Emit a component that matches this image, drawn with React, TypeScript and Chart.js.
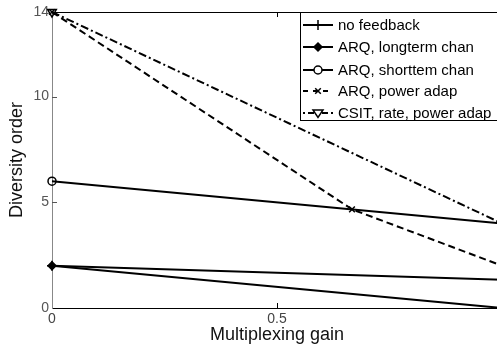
import React, { useEffect, useRef } from "react";
import { Chart, registerables } from "chart.js";

Chart.register(...registerables);

const xTicks = [0, 0.5, 1];
const yTicks = [0, 5, 10, 14];

const xTwo = [0, 1];
const xPower = [0, 2 / 3, 1];

const noFeedback = [2, 0];
const arqLongterm = [2, 4 / 3];
const arqShortterm = [6, 4];
const arqPower = [14, 14 / 3, 2];
const csitRatePower = [14, 4];

const seriesNames = [
  "no feedback",
  "ARQ, longterm chan",
  "ARQ, shortterm chan".replace("shortterm", "shorttem"),
  "ARQ, power adap",
  "CSIT, rate, power adap",
];

const FONT = "'Liberation Sans', Arial, sans-serif";

type Style = {
  dash: number[];
  point: any;
  rot: number;
  fill: boolean;
  r: number;
};

const styles: Style[] = [
  { dash: [], point: "cross", rot: 0, fill: false, r: 5 },
  { dash: [], point: "rectRot", rot: 0, fill: true, r: 4 },
  { dash: [], point: "circle", rot: 0, fill: false, r: 4 },
  { dash: [7, 4], point: "crossRot", rot: 0, fill: false, r: 4 },
  { dash: [8, 3, 2, 3], point: "triangle", rot: 180, fill: false, r: 5 },
];

function mk(xs: number[], ys: number[]) {
  return xs.map((x, i) => ({ x, y: ys[i] }));
}

const legendPlugin = {
  id: "customLegend",
  afterDatasetsDraw(chart: any) {
    const { ctx, chartArea } = chart;
    const xs = chart.scales.x;
    const ys = chart.scales.y;
    ctx.save();
    // top border
    ctx.strokeStyle = "#000";
    ctx.lineWidth = 1;
    ctx.beginPath();
    ctx.moveTo(chartArea.left, chartArea.top + 0.5);
    ctx.lineTo(chartArea.right, chartArea.top + 0.5);
    ctx.stroke();
    // inner ticks
    ctx.strokeStyle = "#555";
    [5, 10].forEach((v) => {
      const py = Math.round(ys.getPixelForValue(v)) + 0.5;
      ctx.beginPath();
      ctx.moveTo(chartArea.left, py);
      ctx.lineTo(chartArea.left + 5, py);
      ctx.stroke();
    });
    ctx.strokeStyle = "#000";
    [0.5].forEach((v) => {
      const px = Math.round(xs.getPixelForValue(v)) + 0.5;
      ctx.beginPath();
      ctx.moveTo(px, chartArea.bottom);
      ctx.lineTo(px, chartArea.bottom - 5);
      ctx.moveTo(px, chartArea.top);
      ctx.lineTo(px, chartArea.top + 5);
      ctx.stroke();
    });
    // legend box
    const bx = 300.5;
    const by = chartArea.top + 0.5;
    const bw = 260;
    const bh = 108;
    ctx.fillStyle = "#fff";
    ctx.fillRect(bx, by, bw, bh);
    ctx.strokeStyle = "#000";
    ctx.lineWidth = 1;
    ctx.strokeRect(bx, by, bw, bh);
    const rows = [25, 47, 70, 91, 113];
    ctx.font = `15px ${FONT}`;
    ctx.textBaseline = "middle";
    ctx.textAlign = "left";
    seriesNames.forEach((name, i) => {
      const y = rows[i];
      const st = styles[i];
      ctx.strokeStyle = "#000";
      ctx.lineWidth = 2;
      ctx.setLineDash(st.dash.length ? (i === 3 ? [5, 5] : [2, 3, 6, 3]) : []);
      ctx.beginPath();
      ctx.moveTo(303, y);
      ctx.lineTo(333, y);
      ctx.stroke();
      ctx.setLineDash([]);
      ctx.lineWidth = 1.5;
      ctx.fillStyle = st.fill ? "#000" : "#fff";
      // marker
      (Chart as any).helpers?.drawPoint;
      drawMarker(ctx, st, 318, y);
      ctx.fillStyle = "#000";
      ctx.fillText(name, 338, y + 1);
    });
    ctx.restore();
  },
};

function drawMarker(ctx: CanvasRenderingContext2D, st: Style, x: number, y: number) {
  const r = st.r;
  ctx.beginPath();
  if (st.point === "cross") {
    ctx.moveTo(x - r, y);
    ctx.lineTo(x + r, y);
    ctx.moveTo(x, y - r);
    ctx.lineTo(x, y + r);
    ctx.stroke();
  } else if (st.point === "crossRot") {
    ctx.moveTo(x - r * 0.7, y - r * 0.7);
    ctx.lineTo(x + r * 0.7, y + r * 0.7);
    ctx.moveTo(x + r * 0.7, y - r * 0.7);
    ctx.lineTo(x - r * 0.7, y + r * 0.7);
    ctx.stroke();
  } else if (st.point === "rectRot") {
    ctx.moveTo(x, y - r);
    ctx.lineTo(x + r, y);
    ctx.lineTo(x, y + r);
    ctx.lineTo(x - r, y);
    ctx.closePath();
    ctx.fill();
    ctx.stroke();
  } else if (st.point === "circle") {
    ctx.arc(x, y, r, 0, Math.PI * 2);
    ctx.fill();
    ctx.stroke();
  } else {
    ctx.moveTo(x - r, y - r * 0.6);
    ctx.lineTo(x + r, y - r * 0.6);
    ctx.lineTo(x, y + r * 0.9);
    ctx.closePath();
    ctx.fill();
    ctx.stroke();
  }
}

export default function App() {
  const ref = useRef<HTMLCanvasElement>(null);
  useEffect(() => {
    const seriesData = [
      mk(xTwo, noFeedback),
      mk(xTwo, arqLongterm),
      mk(xTwo, arqShortterm),
      mk(xPower, arqPower),
      mk(xTwo, csitRatePower),
    ];
    const chart = new Chart(ref.current!, {
      type: "line",
      data: {
        datasets: seriesData.map((d, i) => ({
          label: seriesNames[i],
          data: d,
          borderColor: "#000",
          borderWidth: 2,
          borderDash: styles[i].dash,
          pointStyle: styles[i].point,
          pointRotation: styles[i].rot,
          pointRadius: styles[i].r,
          pointBorderWidth: 1.5,
          pointBorderColor: "#000",
          pointBackgroundColor: styles[i].fill ? "#000" : "rgba(0,0,0,0)",
          fill: false,
          tension: 0,
          clip: false as any,
        })),
      },
      options: {
        responsive: false,
        animation: false,
        events: [],
        layout: { padding: { left: 0, top: 12, right: 38, bottom: 0 } },
        plugins: { legend: { display: false }, tooltip: { enabled: false } },
        scales: {
          x: {
            type: "linear",
            min: 0,
            max: 1,
            afterBuildTicks: (s: any) => {
              s.ticks = xTicks.map((v) => ({ value: v }));
            },
            afterFit: (s: any) => {
              s.height = 39;
            },
            grid: { display: false, drawTicks: false },
            border: { display: true, color: "#000", width: 1 },
            ticks: {
              padding: 3,
              color: "#444",
              font: { family: FONT, size: 14 },
              callback: (v: any) => String(v),
            },
            title: {
              display: true,
              text: "Multiplexing gain",
              color: "#111",
              font: { family: FONT, size: 18, lineHeight: 1 },
              padding: { top: 0, bottom: 3 },
            },
          },
          y: {
            type: "linear",
            min: 0,
            max: 14,
            afterBuildTicks: (s: any) => {
              s.ticks = yTicks.map((v) => ({ value: v }));
            },
            afterFit: (s: any) => {
              s.width = 52;
            },
            grid: { display: false, drawTicks: false },
            border: { display: true, color: "#888", width: 1 },
            ticks: {
              padding: 3,
              color: "#555",
              font: { family: FONT, size: 14 },
              callback: (v: any) => String(v),
            },
            title: {
              display: true,
              text: "Diversity order",
              color: "#111",
              font: { family: FONT, size: 18, lineHeight: 1 },
              padding: { top: 8, bottom: 0 },
            },
          },
        },
      },
      plugins: [legendPlugin],
    });
    return () => chart.destroy();
  }, []);
  return (
    <div
      style={{
        position: "fixed",
        left: 0,
        top: 0,
        width: 497,
        height: 347,
        overflow: "hidden",
        background: "#fff",
      }}
    >
      <canvas ref={ref} width={540} height={347} style={{ width: 540, height: 347, display: "block" }} />
    </div>
  );
}
